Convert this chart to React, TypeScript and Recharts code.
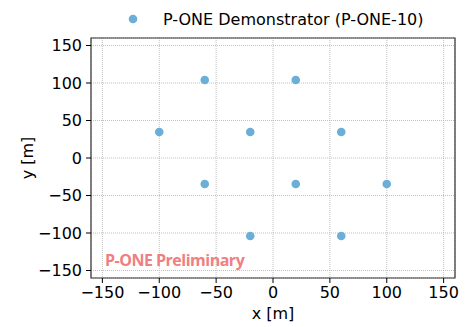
import React from "react";
import {
  ScatterChart,
  Scatter,
  XAxis,
  YAxis,
  CartesianGrid,
  ReferenceArea,
  Customized,
  Label,
} from "recharts";

const xValues = [-60, 20, -100, -20, 60, -60, 20, 100, -20, 60];
const yValues = [103.9, 103.9, 34.6, 34.6, 34.6, -34.6, -34.6, -34.6, -103.9, -103.9];
const ticks = [-150, -100, -50, 0, 50, 100, 150];
const seriesName = "P-ONE Demonstrator (P-ONE-10)";
const watermark = "P-ONE Preliminary";

const data = xValues.map((x, i) => ({ x, y: yValues[i] }));

const FONT = "DejaVu Sans";
const POINT = "#6baed6";
const fmt = (v: number) => String(v).replace("-", "\u2212");

const Dot = (props: any) => (
  <circle cx={props.cx} cy={props.cy} r={4.3} fill={POINT} />
);

const Overlay = () => (
  <g>
    <circle cx={133} cy={19} r={4.3} fill={POINT} />
    <text x={163} y={25} fontFamily={FONT} fontSize={16} fill="#000">
      {seriesName}
    </text>
    <text
      x={105}
      y={266}
      fontFamily="Open Sans"
      fontWeight="bold"
      fontSize={16}
      letterSpacing={-0.5}
      fill="#f08080"
    >
      {watermark}
    </text>
    <text
      x={27}
      y={158}
      transform="rotate(-90 27 158)"
      textAnchor="middle"
      dominantBaseline="central"
      fontFamily={FONT}
      fontSize={16}
      fill="#000"
    >
      y [m]
    </text>
  </g>
);

export default function App() {
  return (
    <div style={{ position: "absolute", left: 0, top: 0, width: 467, height: 327, background: "#fff" }}>
      <ScatterChart
        width={467}
        height={327}
        margin={{ top: 38, right: 12, bottom: 0, left: 0 }}
      >
        <CartesianGrid stroke="#b0b0b0" strokeDasharray="1 1" strokeWidth={0.8} />
        <XAxis
          type="number"
          dataKey="x"
          domain={[-160, 160]}
          ticks={ticks}
          tickFormatter={fmt}
          height={49}
          tickSize={5}
          tickMargin={4}
          interval={0}
          allowDataOverflow
          axisLine={false}
          tickLine={{ stroke: "#000" }}
          tick={{ fontFamily: FONT, fontSize: 16, fill: "#000" }}
        >
          <Label
            value="x [m]"
            position="insideBottom"
            offset={8}
            style={{ fontFamily: FONT, fontSize: 16, fill: "#000" }}
          />
        </XAxis>
        <YAxis
          type="number"
          dataKey="y"
          domain={[-160, 160]}
          ticks={ticks}
          tickFormatter={fmt}
          width={91}
          tickSize={5}
          tickMargin={4}
          interval={0}
          allowDataOverflow
          axisLine={false}
          tickLine={{ stroke: "#000" }}
          tick={{ fontFamily: FONT, fontSize: 16, fill: "#000" }}
        />
        <ReferenceArea
          x1={-160}
          x2={160}
          y1={-160}
          y2={160}
          fill="none"
          fillOpacity={0}
          stroke="#333"
          strokeWidth={1.2}
          ifOverflow="visible"
        />
        <Scatter data={data} shape={Dot} isAnimationActive={false} />
        <Customized component={Overlay} />
      </ScatterChart>
    </div>
  );
}
